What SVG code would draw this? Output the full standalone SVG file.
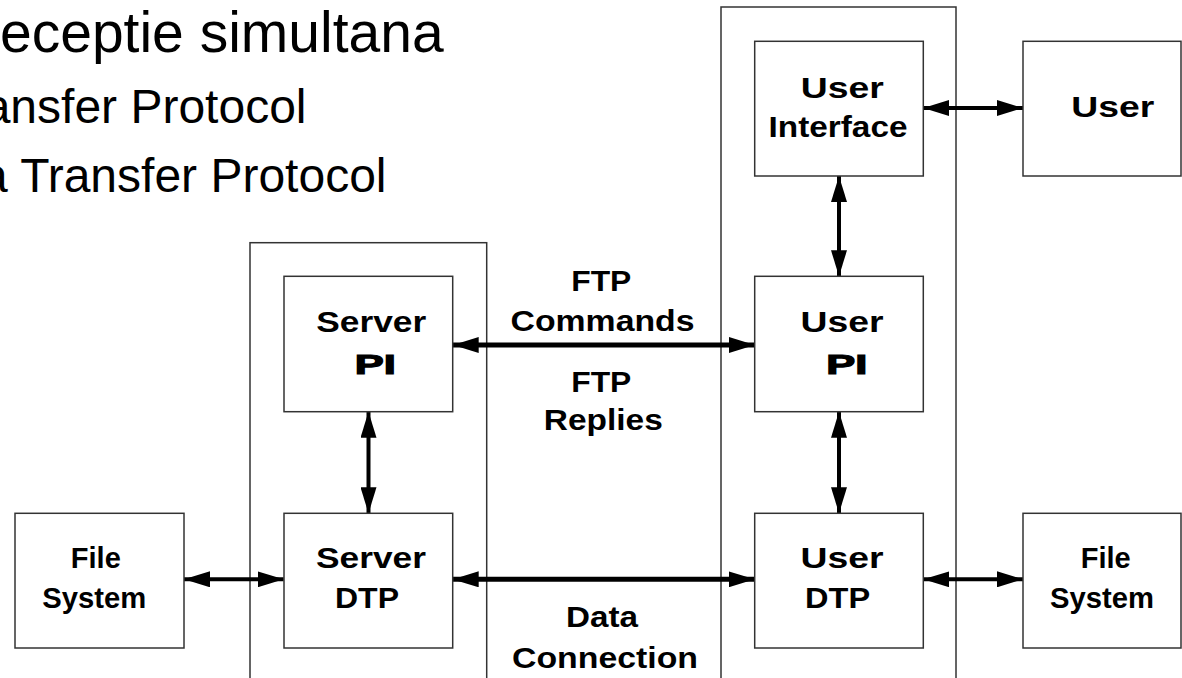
<svg xmlns="http://www.w3.org/2000/svg" width="1182" height="678" viewBox="0 0 1182 678">
<style>
.bg{fill:#ffffff}
.cont{fill:none;stroke:#333;stroke-width:1.5}
.box{fill:#ffffff;stroke:#333;stroke-width:1.5}
.title{font-family:"Liberation Sans",Arial,sans-serif;fill:#000}
.lbl{font-family:"Liberation Sans",Arial,sans-serif;font-weight:bold;font-size:29px;fill:#000;text-anchor:middle}
.pi{font-family:"Liberation Sans",Arial,sans-serif;font-weight:bold;font-size:27px;fill:#000;stroke:#000;stroke-width:1.2;text-anchor:middle}
.conn{fill:none;stroke:#000;stroke-width:4}
.thick{stroke-width:5}
</style>
<defs>
<marker id="ah" markerUnits="userSpaceOnUse" markerWidth="26" markerHeight="16" refX="26" refY="8" orient="auto-start-reverse">
<path d="M0,0 L26,8 L0,16 Z" fill="#000"/>
</marker>
</defs>
<rect class="bg" x="0" y="0" width="1182" height="678"/>

<g id="heading">
<text class="title" x="0" y="52" font-size="57">eceptie simultana</text>
<text class="title" x="306.5" y="123" font-size="48" text-anchor="end">ansfer Protocol</text>
<text class="title" x="386.5" y="192" font-size="48" text-anchor="end">a Transfer Protocol</text>
</g>

<g id="server-process">
<rect class="cont" x="250" y="242.7" width="236.7" height="460"/>
</g>
<g id="user-process">
<rect class="cont" x="721" y="7" width="235" height="700"/>
</g>

<g id="connectors">
<line class="conn" x1="923.3" y1="108" x2="1023" y2="108" marker-start="url(#ah)" marker-end="url(#ah)"/>
<line class="conn" x1="839" y1="176" x2="839" y2="276.3" marker-start="url(#ah)" marker-end="url(#ah)"/>
<line class="conn thick" x1="452.7" y1="345" x2="754.7" y2="345" marker-start="url(#ah)" marker-end="url(#ah)"/>
<line class="conn" x1="368.5" y1="411.7" x2="368.5" y2="513.3" marker-start="url(#ah)" marker-end="url(#ah)"/>
<line class="conn" x1="839" y1="411.7" x2="839" y2="513.3" marker-start="url(#ah)" marker-end="url(#ah)"/>
<line class="conn" x1="184" y1="579.3" x2="283.7" y2="579.3" marker-start="url(#ah)" marker-end="url(#ah)"/>
<line class="conn thick" x1="452.7" y1="579.3" x2="754.7" y2="579.3" marker-start="url(#ah)" marker-end="url(#ah)"/>
<line class="conn" x1="923.3" y1="579.3" x2="1023" y2="579.3" marker-start="url(#ah)" marker-end="url(#ah)"/>
</g>

<g id="user-interface">
<rect class="box" x="754.7" y="41.3" width="168.6" height="134.7"/>
<text class="lbl" x="842.2" y="97.7" textLength="83" lengthAdjust="spacingAndGlyphs">User</text>
<text class="lbl" x="838" y="136.7" textLength="139" lengthAdjust="spacingAndGlyphs">Interface</text>
</g>
<g id="user">
<rect class="box" x="1023" y="41.3" width="158" height="134.7"/>
<text class="lbl" x="1112.8" y="117.3" textLength="83" lengthAdjust="spacingAndGlyphs">User</text>
</g>
<g id="server-pi">
<rect class="box" x="284" y="276.3" width="168.7" height="135.4"/>
<text class="lbl" x="371.2" y="331.7" textLength="110" lengthAdjust="spacingAndGlyphs">Server</text>
<text class="pi" x="375.3" y="374.3" textLength="41" lengthAdjust="spacingAndGlyphs">PI</text>
</g>
<g id="user-pi">
<rect class="box" x="754.7" y="276.3" width="168.6" height="135.4"/>
<text class="lbl" x="842" y="331.7" textLength="83" lengthAdjust="spacingAndGlyphs">User</text>
<text class="pi" x="846.8" y="374.3" textLength="41" lengthAdjust="spacingAndGlyphs">PI</text>
</g>
<g id="ftp-labels">
<text class="lbl" x="601.3" y="290.7" textLength="60" lengthAdjust="spacingAndGlyphs">FTP</text>
<text class="lbl" x="602.5" y="330.7" textLength="184" lengthAdjust="spacingAndGlyphs">Commands</text>
<text class="lbl" x="601.3" y="391.7" textLength="60" lengthAdjust="spacingAndGlyphs">FTP</text>
<text class="lbl" x="603.3" y="430" textLength="119" lengthAdjust="spacingAndGlyphs">Replies</text>
</g>
<g id="server-dtp">
<rect class="box" x="284" y="513.3" width="168.7" height="134.7"/>
<text class="lbl" x="371" y="568.3" textLength="110" lengthAdjust="spacingAndGlyphs">Server</text>
<text class="lbl" x="367" y="608.3" textLength="64" lengthAdjust="spacingAndGlyphs">DTP</text>
</g>
<g id="user-dtp">
<rect class="box" x="754.7" y="513.3" width="168.6" height="134.7"/>
<text class="lbl" x="842" y="568.3" textLength="83" lengthAdjust="spacingAndGlyphs">User</text>
<text class="lbl" x="837.6" y="608.3" textLength="65" lengthAdjust="spacingAndGlyphs">DTP</text>
</g>
<g id="file-system-left">
<rect class="box" x="15" y="513.3" width="169" height="134.7"/>
<text class="lbl" x="95.8" y="568" textLength="50" lengthAdjust="spacingAndGlyphs">File</text>
<text class="lbl" x="94.2" y="608.3" textLength="104" lengthAdjust="spacingAndGlyphs">System</text>
</g>
<g id="file-system-right">
<rect class="box" x="1023" y="513.3" width="158" height="134.7"/>
<text class="lbl" x="1105.7" y="568" textLength="50" lengthAdjust="spacingAndGlyphs">File</text>
<text class="lbl" x="1102" y="608.3" textLength="104" lengthAdjust="spacingAndGlyphs">System</text>
</g>
<g id="data-connection">
<text class="lbl" x="602" y="627.3" textLength="72" lengthAdjust="spacingAndGlyphs">Data</text>
<text class="lbl" x="605" y="668.3" textLength="186" lengthAdjust="spacingAndGlyphs">Connection</text>
</g>
</svg>
